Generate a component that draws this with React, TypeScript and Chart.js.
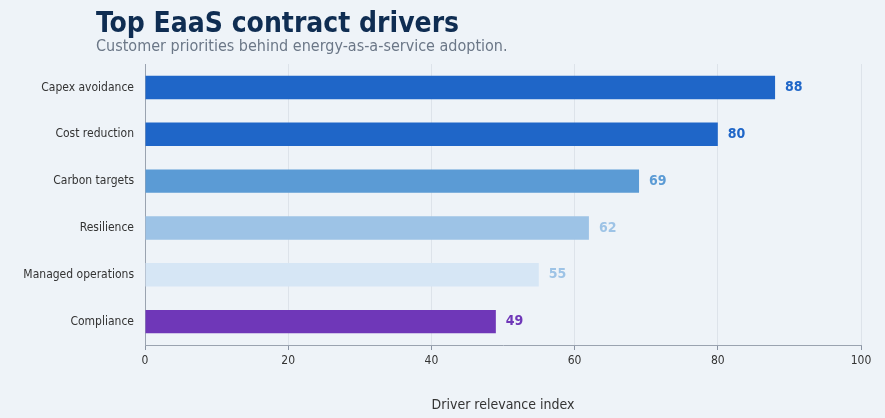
import React, { useEffect, useRef } from "react";
import { Chart, registerables } from "chart.js";
Chart.register(...registerables);

const categories = ["Capex avoidance", "Cost reduction", "Carbon targets", "Resilience", "Managed operations", "Compliance"];
const values = [88, 80, 69, 62, 55, 49];
const barColors = ["#1f66c8", "#1f66c8", "#5b9bd5", "#9dc3e6", "#d6e6f5", "#6f37b8"];
const labelColors = ["#1f66c8", "#1f66c8", "#5b9bd5", "#9dc3e6", "#9dc3e6", "#6f37b8"];
const FONT = "'DejaVu Sans Condensed', 'DejaVu Sans', sans-serif";

export default function App() {
  const ref = useRef<HTMLCanvasElement>(null);
  useEffect(() => {
    const labelPlugin = {
      id: "vals",
      afterDatasetsDraw(chart: any) {
        const ctx = chart.ctx;
        const meta = chart.getDatasetMeta(0);
        ctx.save();
        ctx.font = `bold 14px ${FONT}`;
        ctx.textBaseline = "middle";
        meta.data.forEach((el: any, i: number) => {
          ctx.fillStyle = labelColors[i];
          ctx.fillText(String(values[i]), el.x + 10, el.y);
        });
        ctx.restore();
      },
    };
    const chart = new Chart(ref.current!, {
      type: "bar",
      data: {
        labels: categories,
        datasets: [{ data: values, backgroundColor: barColors, barPercentage: 0.5, categoryPercentage: 1 }],
      },
      options: {
        indexAxis: "y",
        animation: false,
        responsive: false,
        layout: { padding: { top: 64, right: 24, left: 0, bottom: 0 } },
        plugins: { legend: { display: false }, tooltip: { enabled: false } },
        scales: {
          x: {
            min: 0, max: 100,
            ticks: { stepSize: 20, color: "#333", font: { family: FONT, size: 12 }, padding: 4 },
            grid: { color: "#dde3ea", tickColor: "#8a94a3", tickLength: 5, drawTicks: true },
            border: { color: "#9aa3b0", dash: [4, 4] } as any,
            title: { display: true, text: "Driver relevance index", color: "#333", font: { family: FONT, size: 14 }, padding: { top: 16 } },
            afterFit: (s: any) => { s.height = 73; },
          },
          y: {
            ticks: { color: "#333", font: { family: FONT, size: 12 }, padding: 6 },
            grid: { display: false, tickLength: 5 },
            border: { color: "#9aa3b0" },
            afterFit: (s: any) => { s.width = 145; },
          },
        },
      },
      plugins: [labelPlugin],
    } as any);
    // dashed grid
    (chart.options.scales as any).x.border.dash = [];
    (chart.options.scales as any).x.grid.borderDash = [4, 4];
    chart.update();
    return () => chart.destroy();
  }, []);
  return (
    <div style={{ position: "fixed", left: 0, top: 0, width: 885, height: 418, background: "#eef3f8", fontFamily: FONT }}>
      <canvas ref={ref} width={885} height={418} style={{ position: "absolute", left: 0, top: 0 }} />
      <div style={{ position: "absolute", left: 96, top: 6, fontSize: 28, fontWeight: "bold", color: "#0f2d52", lineHeight: "34px" }}>Top EaaS contract drivers</div>
      <div style={{ position: "absolute", left: 96, top: 36, fontSize: 16, color: "#6b7787", lineHeight: "20px" }}>Customer priorities behind energy-as-a-service adoption.</div>
    </div>
  );
}
